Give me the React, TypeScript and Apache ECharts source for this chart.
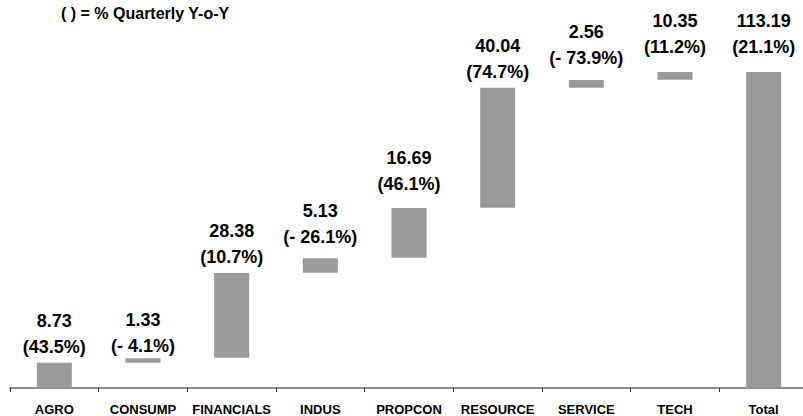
import React, { useEffect, useRef } from "react";
import * as echarts from "echarts";

// ---- data ----
const categories = ["AGRO", "CONSUMP", "FINANCIALS", "INDUS", "PROPCON", "RESOURCE", "SERVICE", "TECH", "Total"];
const values = [8.73, 1.33, 28.38, 5.13, 16.69, 40.04, 2.56, 10.35, 113.19];
const yoyPct = [43.5, -4.1, 10.7, -26.1, 46.1, 74.7, -73.9, 11.2, 21.1];
// waterfall bar extents as drawn in the reference (low / high)
const barLow = [0, 9.06, 10.85, 41.3, 46.67, 64.58, 107.56, 110.42, 0];
const barHigh = [9.06, 10.64, 41.19, 46.45, 64.47, 107.56, 110.32, 113.18, 113.19];
const titleText = "( ) = % Quarterly Y-o-Y";

// ---- styling ----
const labelDistance = [3, -1, 3, 8, 11, 3, 9, 12, 12];
const FONT = 'Arial, "Liberation Sans", sans-serif';
const BAR_COLOR = "#999999";

function fmtPct(p: number): string {
  return p < 0 ? `(- ${Math.abs(p).toFixed(1)}%)` : `(${p.toFixed(1)}%)`;
}

export default function App() {
  const ref = useRef<HTMLDivElement>(null);
  useEffect(() => {
    if (!ref.current) return;
    const chart = echarts.init(ref.current, null, { renderer: "svg" });
    const visible = barHigh.map((h, i) => ({
      value: +(h - barLow[i]).toFixed(2),
      label: { distance: labelDistance[i] },
    }));
    chart.setOption({
      animation: false,
      backgroundColor: "#ffffff",
      title: {
        text: titleText,
        left: 61,
        top: 4,
        padding: 0,
        textStyle: { fontFamily: FONT, fontSize: 16, fontWeight: "bold", color: "#000", lineHeight: 19 },
      },
      grid: { left: 10, right: 4, top: 53, bottom: 28, containLabel: false },
      xAxis: {
        type: "category",
        data: categories,
        axisLine: { show: true, lineStyle: { color: "#8c8c8c", width: 2 } },
        axisTick: { show: true, length: 4, lineStyle: { color: "#333", width: 1 } },
        axisLabel: {
          margin: 15,
          interval: 0,
          fontFamily: FONT,
          fontSize: 13,
          fontWeight: "bold",
          color: "#000",
        },
      },
      yAxis: {
        type: "value",
        min: 0,
        max: 120,
        show: false,
        splitLine: { show: false },
      },
      series: [
        {
          type: "bar",
          stack: "wf",
          barWidth: 35,
          silent: true,
          itemStyle: { color: "transparent" },
          data: barLow,
        },
        {
          type: "bar",
          stack: "wf",
          barWidth: 35,
          itemStyle: { color: BAR_COLOR },
          label: {
            show: true,
            position: "top",
            fontFamily: FONT,
            fontSize: 18,
            fontWeight: "bold",
            color: "#000",
            lineHeight: 26,
            align: "center",
            formatter: (p: any) => `${values[p.dataIndex].toFixed(2)}\n${fmtPct(yoyPct[p.dataIndex])}`,
          },
          data: visible,
        },
      ],
    });
    return () => chart.dispose();
  }, []);
  return (
    <div style={{ position: "fixed", left: 0, top: 0, width: 803, height: 416, overflow: "hidden", background: "#fff" }}>
      <div ref={ref} style={{ width: 812, height: 416 }} />
    </div>
  );
}
